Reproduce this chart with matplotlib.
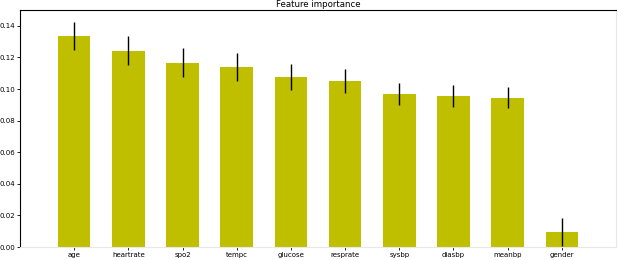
import matplotlib
matplotlib.use('Agg')
import numpy as np
from matplotlib import pyplot as plt

# Feature importance values
features = ['age', 'heartrate', 'spo2', 'tempc', 'glucose',
            'resprate', 'sysbp', 'diasbp', 'meanbp', 'gender']
importances = [0.1337, 0.1242, 0.1166, 0.1140, 0.1077,
               0.1052, 0.0969, 0.0957, 0.0944, 0.0095]
std = [0.0089, 0.0092, 0.0092, 0.0089, 0.0082,
       0.0076, 0.0070, 0.0070, 0.0067, 0.0089]

fig = plt.figure(figsize=(6.18, 2.6), dpi=100)
ax = fig.add_axes([20 / 618, 13 / 260, 596 / 618, 237 / 260])

x = np.arange(len(features))
ax.bar(x, importances, width=0.6, color='y', yerr=std, ecolor='black',
       error_kw={'elinewidth': 1.0})

ax.set_xlim(-1, len(features))
ax.set_ylim(0, 0.15)
ax.set_xticks(x)
ax.set_xticklabels(features, fontsize=5)
ax.set_yticks(np.arange(0, 0.15, 0.02))
ax.set_yticklabels([f'{v:.2f}' for v in np.arange(0, 0.15, 0.02)], fontsize=5)
ax.tick_params(length=2, width=0.6, pad=1.5)

ax.spines['left'].set_linewidth(0.8)
ax.spines['top'].set_linewidth(0.8)
ax.spines['bottom'].set_color('#e8e8e8')
ax.spines['right'].set_color('#e8e8e8')

ax.set_title('Feature importance', fontsize=6.2, pad=2)

plt.savefig('out.png', dpi=100)
